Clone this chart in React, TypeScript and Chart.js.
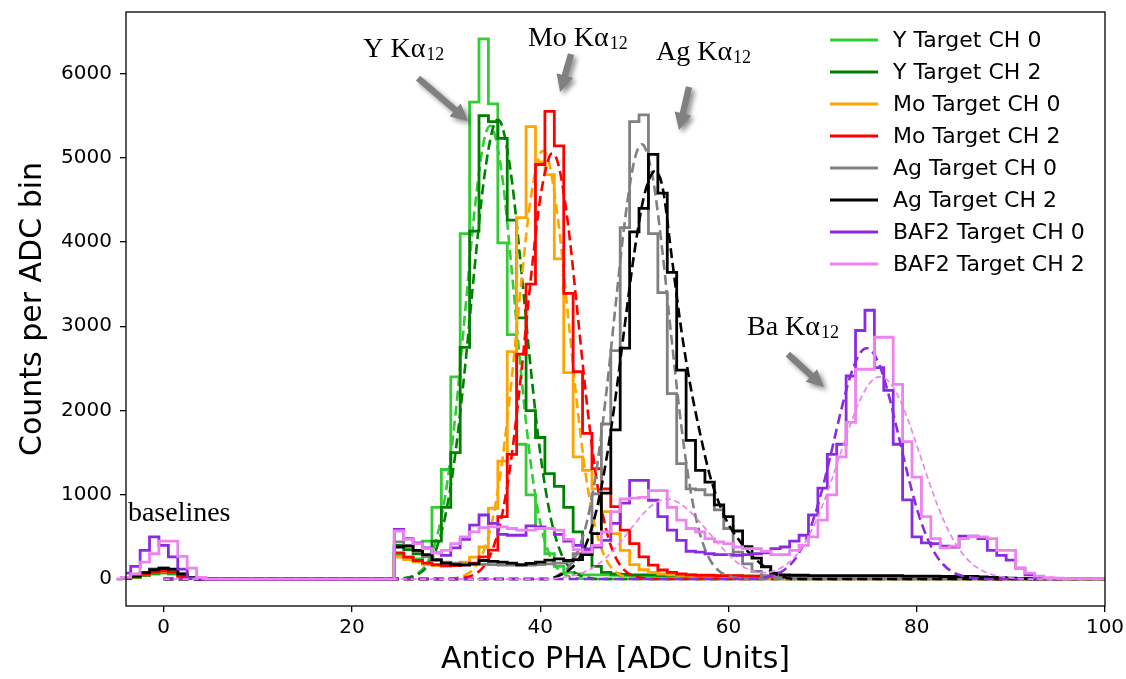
import React, { useEffect, useRef } from "react";
import { Chart, registerables } from "chart.js";

Chart.register(...registerables);

// ---------- axes ----------
const X_MIN = -4;
const X_MAX = 100;
const Y_MIN = -320;
const Y_MAX = 6730;
const xTickValues = [0, 20, 40, 60, 80, 100];
const yTickValues = [0, 1000, 2000, 3000, 4000, 5000, 6000];
const xTitle = "Antico PHA [ADC Units]";
const yTitle = "Counts per ADC bin";

// ---------- series ----------
const seriesLabels = [
  "Y Target CH 0",
  "Y Target CH 2",
  "Mo Target CH 0",
  "Mo Target CH 2",
  "Ag Target CH 0",
  "Ag Target CH 2",
  "BAF2 Target CH 0",
  "BAF2 Target CH 2",
];
const seriesColors = ["#32CD32", "#008000", "#FFA500", "#FF0000", "#808080", "#000000", "#8A2BE2", "#EE82EE"];

// baseline bins -5 .. 5 (bin centres at integers)
const BASE_FIRST_BIN = -5;
const yCh0Baseline = [0, 5, 20, 40, 60, 70, 60, 30, 10, 0, 0];
const yCh2Baseline = [0, 5, 20, 45, 70, 80, 70, 35, 10, 0, 0];
const moCh0Baseline = [0, 10, 25, 50, 75, 85, 75, 40, 10, 0, 0];
const moCh2Baseline = [0, 10, 30, 55, 80, 95, 80, 40, 10, 0, 0];
const agCh0Baseline = [0, 10, 40, 80, 120, 135, 120, 60, 15, 0, 0];
const agCh2Baseline = [0, 10, 35, 75, 110, 125, 115, 60, 15, 0, 0];
const baCh0Baseline = [0, 70, 150, 340, 500, 400, 264, 118, 10, 0, 0];
const baCh2Baseline = [0, 20, 60, 200, 300, 450, 450, 270, 130, 20, 0];

// main spectrum bins starting at 25
const MAIN_FIRST_BIN = 25;
const yCh0Counts = [
  290, 260, 240, 450, 850, 1300, 2400, 4100, 5660, 6410,
  5640, 3990, 2900, 1600, 1000, 600, 300, 150, 80, 60,
  50, 50, 50, 45, 40, 40, 40, 35, 35, 35,
  30, 30, 30, 30, 30, 25, 25, 25, 25, 20,
  20, 20, 20, 20, 15, 15, 15, 15, 15, 15,
  10, 10, 10, 10, 10, 10, 10, 10, 5, 5,
  5, 5, 5, 5,
];
const yCh2Counts = [
  400, 350, 300, 270, 450, 850, 1500, 2750, 4130, 5500,
  5430, 5230, 4260, 3100, 2000, 1680, 1250, 1100, 850, 560,
  300, 150, 80, 60, 55, 50, 50, 50, 45, 45,
  45, 45, 40, 40, 40, 35, 35, 35, 35, 30,
  30, 30, 30, 25, 25, 25, 25, 20, 20, 20,
  20, 20, 15, 15, 15, 15, 10, 10, 10, 10,
  5, 5, 5, 5,
];
const moCh0Counts = [
  260, 230, 200, 175, 160, 150, 160, 200, 260, 380,
  840, 1400, 2700, 4290, 5370, 4950, 4800, 3800, 2450, 1450,
  1290, 1070, 800, 540, 340, 170, 110, 80, 60, 50,
  45, 45, 40, 40, 40, 35, 35, 35, 30, 30,
  30, 30, 25, 25, 25, 25, 20, 20, 20, 20,
  15, 15, 15, 15, 15, 10, 10, 10, 10, 10,
  5, 5, 5, 5,
];
const moCh2Counts = [
  310, 260, 220, 190, 170, 160, 160, 170, 190, 264,
  343, 740, 1480, 2670, 3500, 4920, 5550, 5140, 3390, 2460,
  1730, 1310, 1070, 860, 580, 420, 264, 166, 107, 80,
  60, 50, 45, 45, 40, 40, 40, 35, 35, 35,
  35, 30, 30, 30, 30, 25, 25, 25, 25, 20,
  20, 20, 20, 15, 15, 15, 15, 10, 10, 10,
  10, 5, 5, 5,
];
const agCh0Counts = [
  440, 400, 330, 270, 220, 200, 190, 180, 175, 175,
  170, 165, 165, 160, 165, 170, 180, 190, 200, 300,
  360, 1010, 1840, 2710, 4170, 5430, 5510, 4100, 3400, 2200,
  1370, 1070, 1060, 1000, 820, 600, 320, 180, 90, 40,
  30, 30, 30, 30, 30, 25, 25, 25, 25, 25,
  20, 20, 20, 20, 20, 15, 15, 15, 15, 10,
  10, 10, 10, 5, 5, 5,
];
const agCh2Counts = [
  380, 390, 340, 290, 230, 190, 170, 165, 180, 220,
  210, 200, 190, 170, 185, 200, 225, 240, 220, 230,
  290, 540, 1020, 1770, 2740, 4120, 4400, 5040, 4580, 3640,
  2480, 1645, 1290, 1150, 880, 740, 570, 383, 248, 146,
  70, 50, 45, 45, 40, 40, 40, 40, 40, 40,
  40, 40, 40, 40, 35, 35, 35, 35, 30, 30,
  30, 30, 25, 20, 15, 10, 5, 5,
];
const baCh0Counts = [
  590, 480, 430, 370, 310, 280, 370, 470, 640, 760,
  660, 530, 520, 520, 630, 620, 600, 530, 450, 400,
  350, 380, 460, 660, 900, 1170, 1170, 935, 740, 580,
  460, 330, 320, 300, 290, 290, 280, 290, 300, 310,
  360, 380, 450, 520, 760, 1080, 1480, 1600, 2410, 2950,
  3190, 2510, 2240, 1600, 940, 500, 430, 420, 390, 380,
  510, 510, 480, 340, 280, 225, 130, 50, 20, 5,
];
const baCh2Counts = [
  570, 470, 420, 360, 310, 340, 420, 500, 560, 610,
  620, 620, 600, 580, 580, 600, 600, 580, 470, 350,
  320, 400, 560, 800, 950, 960, 970, 1050, 1050, 850,
  700, 600, 560, 480, 440, 420, 380, 360, 360, 330,
  290, 290, 340, 400, 500, 700, 1000, 1450, 1860, 2490,
  2490, 2870, 2870, 2310, 1630, 1210, 740, 480, 370, 390,
  480, 510, 500, 480, 340, 340, 130, 70, 35, 15,
  10, 5, 5, 5, 5, 5,
];

// fitted curves
const yCh0FitX = [0, 25, 26, 27, 28, 29, 30, 31, 32, 33, 34, 34.7, 35, 36, 37, 38, 39, 40, 41, 42, 43, 44, 45, 100];
const yCh0FitY = [0, 5, 20, 67, 194, 486, 1050, 1955, 3137, 4344, 5188, 5380, 5344, 4748, 3638, 2404, 1370, 674, 286, 104, 33, 9, 0, 0];
const yCh2FitX = [0, 25, 26, 27, 28, 29, 30, 31, 32, 33, 34, 35, 35.5, 36, 37, 38, 39, 40, 41, 42, 43, 44, 45, 46, 100];
const yCh2FitY = [0, 0, 17, 54, 151, 368, 792, 1499, 2496, 3659, 4721, 5363, 5450, 5363, 4721, 3659, 2496, 1499, 792, 368, 151, 54, 17, 0, 0];
const moCh0FitX = [0, 30, 31, 32, 33, 34, 35, 36, 37, 38, 39, 40, 40.3, 41, 42, 43, 44, 45, 46, 47, 48, 49, 50, 100];
const moCh0FitY = [0, 0, 13, 45, 131, 334, 740, 1430, 2407, 3534, 4524, 5049, 5080, 4912, 4167, 3081, 1986, 1117, 547, 234, 87, 28, 8, 0];
const moCh2FitX = [0, 31, 32, 33, 34, 35, 36, 37, 38, 39, 40, 41, 41.3, 42, 43, 44, 45, 46, 47, 48, 49, 50, 51, 52, 100];
const moCh2FitY = [0, 0, 17, 53, 149, 366, 788, 1487, 2458, 3559, 4516, 5020, 5050, 4889, 4172, 3119, 2043, 1172, 589, 260, 100, 34, 10, 0, 0];
const agCh0FitX = [0, 41, 42, 43, 44, 45, 46, 47, 48, 49, 50, 50.8, 51, 52, 53, 54, 55, 56, 57, 58, 59, 60, 61, 62, 100];
const agCh0FitY = [0, 0, 52, 139, 330, 698, 1311, 2187, 3238, 4256, 4967, 5160, 5148, 4737, 3870, 2807, 1808, 1034, 525, 237, 95, 34, 11, 0, 0];
const agCh2FitX = [0, 41, 42, 43, 44, 45, 46, 47, 48, 49, 50, 51, 52, 52.2, 53, 54, 55, 56, 57, 58, 59, 60, 61, 62, 63, 64, 65, 66, 67, 100];
const agCh2FitY = [0, 0, 41, 99, 221, 448, 829, 1399, 2153, 3025, 3875, 4530, 4831, 4840, 4650, 3800, 2950, 2270, 1720, 1240, 900, 650, 480, 335, 225, 130, 60, 20, 0, 0];
const baCh0FitX = [0, 62, 63, 64, 65, 66, 67, 68, 69, 70, 71, 72, 73, 74, 74.7, 75, 76, 77, 78, 79, 80, 81, 82, 83, 84, 85, 86, 87, 88, 100];
const baCh0FitY = [0, 0, 5, 22, 53, 114, 227, 416, 700, 1083, 1541, 2017, 2427, 2684, 2740, 2730, 2551, 2194, 1734, 1260, 842, 517, 292, 152, 72, 32, 13, 5, 0, 0];
const baCh2FitX = [
  0, 41, 42, 43, 44, 45, 46, 47, 48, 49, 50, 51, 52, 53, 53.5, 54, 55, 56, 57, 58, 59, 60,
  61, 62, 63, 64, 65, 66, 67, 68, 69, 70, 71, 72, 73, 74, 75, 76, 77, 78, 79, 80,
  81, 82, 83, 84, 85, 86, 87, 88, 89, 90, 91, 92, 100,
];
const baCh2FitY = [
  0, 0, 15, 30, 57, 99, 164, 254, 369, 504, 648, 781, 885, 943, 950, 943, 885, 790, 670, 540, 410, 290,
  190, 120, 80, 76, 101, 162, 256, 408, 615, 878, 1188, 1524, 1851, 2130, 2323, 2400, 2348, 2177, 1912, 1591,
  1254, 936, 662, 444, 282, 170, 97, 52, 27, 13, 6, 0, 0,
];

// ---------- annotations (data coordinates) ----------
const peakNotes = [
  { main: "Y K\u03b1", sub: "12", x: 21.2, y: 6195 },
  { main: "Mo K\u03b1", sub: "12", x: 38.7, y: 6326 },
  { main: "Ag K\u03b1", sub: "12", x: 52.3, y: 6160 },
  { main: "Ba K\u03b1", sub: "12", x: 61.97, y: 2896 },
  { main: "baselines", sub: "", x: -3.8, y: 688 },
];
const peakArrows = [
  { x0: 27.02, y0: 5946, x1: 32.33, y1: 5436 },
  { x0: 43.28, y0: 6231, x1: 42.11, y1: 5780 },
  { x0: 55.81, y0: 5839, x1: 54.75, y1: 5329 },
  { x0: 66.31, y0: 2670, x1: 70.14, y1: 2279 },
];

type Pt = { x: number; y: number };

function buildHist(base: number[], main: number[], lead?: number, tail?: number): Pt[] {
  const pts: Pt[] = [];
  if (lead !== undefined) pts.push({ x: lead, y: 0 });
  base.forEach((v, i) => pts.push({ x: BASE_FIRST_BIN + i, y: v }));
  for (let b = BASE_FIRST_BIN + base.length; b < MAIN_FIRST_BIN; b++) pts.push({ x: b, y: 0 });
  main.forEach((v, i) => pts.push({ x: MAIN_FIRST_BIN + i, y: v }));
  if (tail !== undefined) pts.push({ x: tail, y: main[main.length - 1] });
  else pts.push({ x: MAIN_FIRST_BIN + main.length, y: 0 });
  return pts;
}

function buildFit(xs: number[], ys: number[]): Pt[] {
  return xs.map((x, i) => ({ x, y: ys[i] }));
}

function drawArrow(ctx: CanvasRenderingContext2D, x0: number, y0: number, x1: number, y1: number) {
  const dx = x1 - x0;
  const dy = y1 - y0;
  const len = Math.hypot(dx, dy);
  const ux = dx / len;
  const uy = dy / len;
  const nx = -uy;
  const ny = ux;
  const hl = 17;
  const hw = 8.5;
  const sw = 3.2;
  const bx = x1 - ux * hl;
  const by = y1 - uy * hl;
  ctx.save();
  ctx.beginPath();
  ctx.moveTo(x0 + nx * sw, y0 + ny * sw);
  ctx.lineTo(bx + nx * sw, by + ny * sw);
  ctx.lineTo(bx + nx * hw, by + ny * hw);
  ctx.lineTo(x1, y1);
  ctx.lineTo(bx - nx * hw, by - ny * hw);
  ctx.lineTo(bx - nx * sw, by - ny * sw);
  ctx.lineTo(x0 - nx * sw, y0 - ny * sw);
  ctx.closePath();
  ctx.fillStyle = "#808080";
  ctx.shadowColor = "rgba(0,0,0,0.45)";
  ctx.shadowBlur = 5;
  ctx.shadowOffsetX = 3;
  ctx.shadowOffsetY = 3;
  ctx.fill();
  ctx.restore();
}

const overlayPlugin = {
  id: "overlayPlugin",
  afterDraw(chart: any) {
    const { ctx, chartArea: a, scales } = chart;
    const xs = scales.x;
    const ys = scales.y;
    ctx.save();
    // frame
    ctx.strokeStyle = "#000";
    ctx.lineWidth = 1.3;
    ctx.strokeRect(a.left, a.top, a.right - a.left, a.bottom - a.top);

    // arrows
    peakArrows.forEach((ar) => {
      drawArrow(ctx, xs.getPixelForValue(ar.x0), ys.getPixelForValue(ar.y0), xs.getPixelForValue(ar.x1), ys.getPixelForValue(ar.y1));
    });

    // annotation text
    ctx.fillStyle = "#000";
    ctx.textBaseline = "alphabetic";
    ctx.textAlign = "left";
    peakNotes.forEach((n) => {
      const px = xs.getPixelForValue(n.x);
      const py = ys.getPixelForValue(n.y);
      ctx.font = '28px "Liberation Serif", "DejaVu Serif", serif';
      ctx.fillText(n.main, px, py);
      if (n.sub) {
        const w = ctx.measureText(n.main).width;
        ctx.font = '18px "Liberation Serif", "DejaVu Serif", serif';
        ctx.fillText(n.sub, px + w + 1, py + 3);
      }
    });

    // legend
    const lx0 = a.right - 275;
    const lx1 = a.right - 227;
    const tx = a.right - 212;
    ctx.font = '22px "DejaVu Sans", sans-serif';
    ctx.textBaseline = "middle";
    seriesLabels.forEach((lab, i) => {
      const yy = a.top + 28 + i * 32;
      ctx.strokeStyle = seriesColors[i];
      ctx.lineWidth = 3;
      ctx.beginPath();
      ctx.moveTo(lx0, yy);
      ctx.lineTo(lx1, yy);
      ctx.stroke();
      ctx.fillStyle = "#000";
      ctx.fillText(lab, tx, yy + 1);
    });
    ctx.restore();
  },
};

export default function App() {
  const canvasRef = useRef<HTMLCanvasElement | null>(null);

  useEffect(() => {
    const canvas = canvasRef.current;
    if (!canvas) return;

    const hists = [
      buildHist(yCh0Baseline, yCh0Counts, -13.6),
      buildHist(yCh2Baseline, yCh2Counts),
      buildHist(moCh0Baseline, moCh0Counts),
      buildHist(moCh2Baseline, moCh2Counts),
      buildHist(agCh0Baseline, agCh0Counts),
      buildHist(agCh2Baseline, agCh2Counts),
      buildHist(baCh0Baseline, baCh0Counts),
      buildHist(baCh2Baseline, baCh2Counts, undefined, 100.6),
    ];
    const fits = [
      buildFit(yCh0FitX, yCh0FitY),
      buildFit(yCh2FitX, yCh2FitY),
      buildFit(moCh0FitX, moCh0FitY),
      buildFit(moCh2FitX, moCh2FitY),
      buildFit(agCh0FitX, agCh0FitY),
      buildFit(agCh2FitX, agCh2FitY),
      buildFit(baCh0FitX, baCh0FitY),
      buildFit(baCh2FitX, baCh2FitY),
    ];

    const datasets: any[] = [];
    let layer = 0;
    for (let i = 0; i < 8; i++) {
      datasets.push({
        label: seriesLabels[i],
        data: hists[i],
        borderColor: seriesColors[i],
        backgroundColor: seriesColors[i],
        borderWidth: 2.8,
        stepped: "middle",
        pointRadius: 0,
        fill: false,
        clip: i === 0 || i === 7 ? false : undefined,
        order: 16 - layer++,
      });
      const thin = i === 7;
      datasets.push({
        label: seriesLabels[i] + " fit",
        data: fits[i],
        borderColor: seriesColors[i],
        backgroundColor: seriesColors[i],
        borderWidth: thin ? 1.7 : 2.6,
        borderDash: thin ? [6, 3.5] : [10, 5],
        cubicInterpolationMode: "monotone",
        pointRadius: 0,
        fill: false,
        order: 16 - layer++,
      });
    }

    const tickFont = { family: "'DejaVu Sans', sans-serif", size: 20 };
    const titleFont = { family: "'DejaVu Sans', sans-serif", size: 30, lineHeight: 1.2 };

    const chart = new Chart(canvas, {
      type: "line",
      data: { datasets },
      options: {
        animation: false,
        responsive: false,
        devicePixelRatio: 1,
        layout: { padding: { left: 0, right: 21, top: 12, bottom: 0 } },
        plugins: {
          legend: { display: false },
          tooltip: { enabled: false },
        },
        elements: { line: { tension: 0 } },
        scales: {
          x: {
            type: "linear",
            min: X_MIN,
            max: X_MAX,
            border: { display: false },
            grid: { display: true, drawOnChartArea: false, drawTicks: true, tickLength: 6, color: "#000", lineWidth: 1.3 },
            ticks: { font: tickFont, color: "#000", padding: 4, callback: (v: any) => String(v), maxRotation: 0 },
            title: { display: true, text: xTitle, font: titleFont, color: "#000", padding: { top: 0, bottom: 1 } },
            afterBuildTicks: (s: any) => {
              s.ticks = xTickValues.map((v) => ({ value: v }));
            },
            afterFit: (s: any) => {
              s.height = 73;
              s.paddingLeft = 0;
              s.paddingRight = 0;
            },
          },
          y: {
            type: "linear",
            min: Y_MIN,
            max: Y_MAX,
            z: 1,
            border: { display: false },
            grid: { display: true, drawOnChartArea: false, drawTicks: true, tickLength: 6, color: "#000", lineWidth: 1.3 },
            ticks: { font: tickFont, color: "#000", padding: 8, callback: (v: any) => String(v) },
            title: { display: true, text: yTitle, font: titleFont, color: "#000", padding: { top: 15, bottom: 0 } },
            afterBuildTicks: (s: any) => {
              s.ticks = yTickValues.map((v) => ({ value: v }));
            },
            afterFit: (s: any) => {
              s.width = 126;
              s.paddingTop = 0;
              s.paddingBottom = 0;
            },
          },
        },
      },
      plugins: [overlayPlugin],
    } as any);

    return () => chart.destroy();
  }, []);

  return (
    <div style={{ position: "fixed", left: 0, top: 0, width: 1126, height: 679, background: "#fff" }}>
      <canvas ref={canvasRef} width={1126} height={679} style={{ display: "block" }} />
    </div>
  );
}
